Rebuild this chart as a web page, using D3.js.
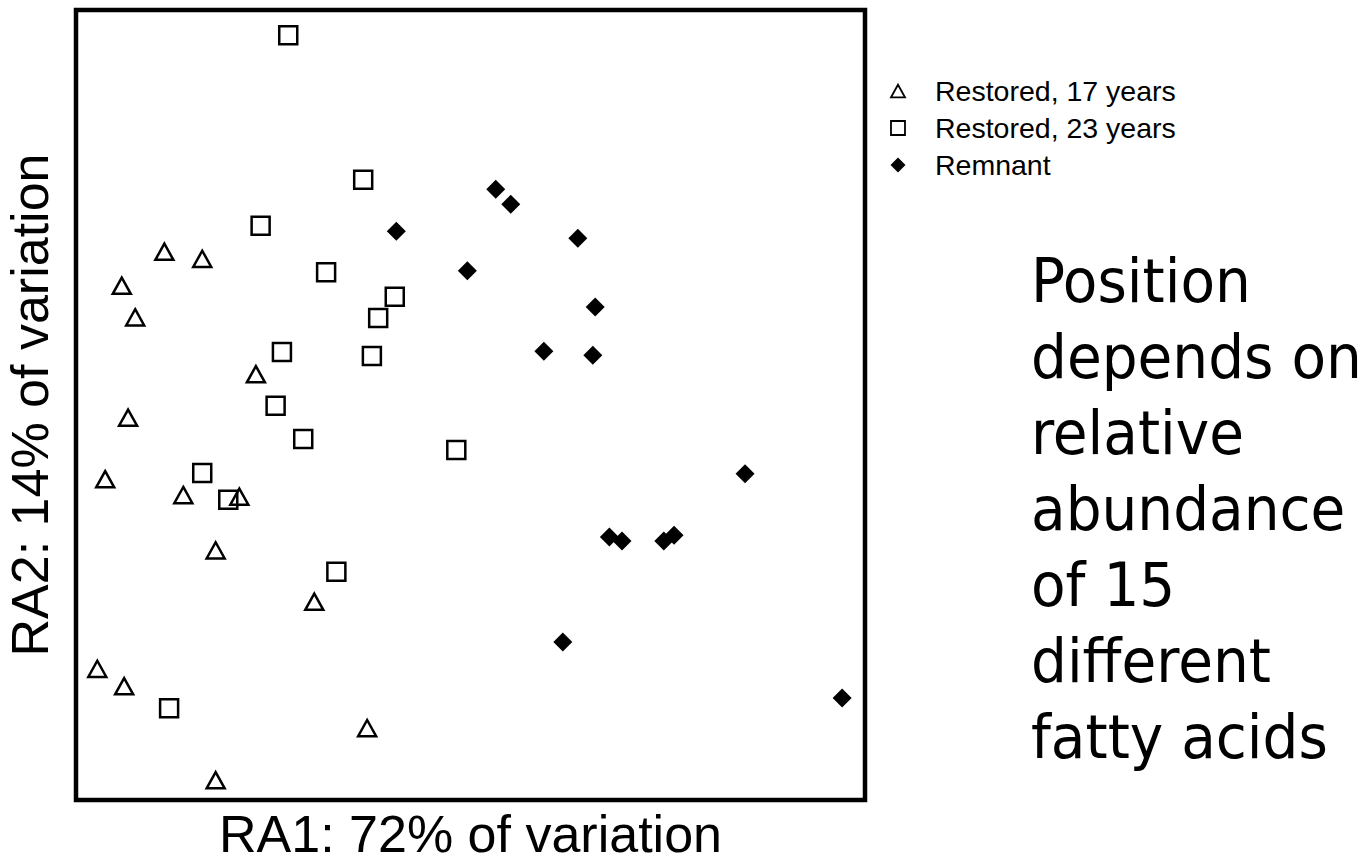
<!DOCTYPE html>
<html>
<head>
<meta charset="utf-8">
<script src="https://cdn.jsdelivr.net/npm/d3@7"></script>
<style>
  html, body { margin: 0; padding: 0; background: #fff; }
  svg { display: block; }
</style>
</head>
<body>
<svg id="chart" width="1369" height="865"></svg>
<script>
// Ordination scores (RA1, RA2), scaled 0–100 across the plotted range
const restored17 = [
  [11.2, 69.4], [16.0, 68.5], [5.8, 65.1], [7.5, 61.1], [22.8, 53.9],
  [6.6, 48.4], [3.7, 40.6], [13.6, 38.6], [20.7, 38.4], [17.7, 31.6],
  [30.2, 25.1], [2.7, 16.6], [6.1, 14.4], [36.9, 9.1], [17.7, 2.5]
];
const restored23 = [
  [26.9, 96.8], [36.4, 78.5], [23.4, 72.7], [31.7, 66.8], [40.4, 63.7],
  [38.3, 61.0], [26.1, 56.7], [37.5, 56.2], [25.3, 49.9], [28.8, 45.7],
  [48.2, 44.3], [16.0, 41.4], [19.3, 38.0], [33.0, 28.9], [11.8, 11.6]
];
const remnant = [
  [53.2, 77.3], [55.1, 75.4], [40.6, 72.0], [63.6, 71.1], [49.6, 67.0],
  [65.8, 62.4], [59.3, 56.8], [65.5, 56.3], [84.8, 41.3], [67.6, 33.3],
  [69.2, 32.8], [74.5, 32.8], [75.8, 33.5], [61.7, 20.0], [97.1, 12.9]
];

const seriesNames = ["Restored, 17 years", "Restored, 23 years", "Remnant"];
const axisTitles = { x: "RA1: 72% of variation", y: "RA2: 14% of variation" };
const noteLines = ["Position", "depends on", "relative", "abundance", "of 15", "different", "fatty acids"];

const svg = d3.select("#chart");

const plot = { left: 76, top: 10, right: 865, bottom: 800 };
const x = d3.scaleLinear().domain([0, 100]).range([plot.left, plot.right]);
const y = d3.scaleLinear().domain([0, 100]).range([plot.bottom, plot.top]);

// Marker shapes, centred on their bounding box
function trianglePath(s) {
  const w = s * 1.0, h = s * 0.9;
  return `M0,${-h / 2}L${w / 2},${h / 2}L${-w / 2},${h / 2}Z`;
}
function squarePath(s) {
  const h = s / 2;
  return `M${-h},${-h}H${h}V${h}H${-h}Z`;
}
function diamondPath(s) {
  const h = s / 2;
  return `M0,${-h}L${h},0L0,${h}L${-h},0Z`;
}

const series = [
  { name: seriesNames[0], data: restored17, path: trianglePath, size: 18, filled: false },
  { name: seriesNames[1], data: restored23, path: squarePath, size: 18, filled: false },
  { name: seriesNames[2], data: remnant, path: diamondPath, size: 19, filled: true }
];

// Plot frame
svg.append("rect")
  .attr("x", plot.left).attr("y", plot.top)
  .attr("width", plot.right - plot.left).attr("height", plot.bottom - plot.top)
  .attr("fill", "none").attr("stroke", "#000").attr("stroke-width", 4.5);

// Points
series.forEach(s => {
  svg.append("g").selectAll("path")
    .data(s.data)
    .join("path")
    .attr("transform", d => `translate(${x(d[0])},${y(d[1])})`)
    .attr("d", s.path(s.size))
    .attr("fill", s.filled ? "#000" : "none")
    .attr("stroke", s.filled ? "none" : "#000")
    .attr("stroke-width", 2.5)
    .attr("stroke-linejoin", "miter");
});

// Axis titles
svg.append("text")
  .attr("x", (plot.left + plot.right) / 2).attr("y", 852)
  .attr("text-anchor", "middle")
  .style("font-family", "'Liberation Sans', Arial, sans-serif")
  .style("font-size", "52px")
  .text(axisTitles.x);

svg.append("text")
  .attr("transform", `translate(48,${(plot.top + plot.bottom) / 2}) rotate(-90)`)
  .attr("text-anchor", "middle")
  .style("font-family", "'Liberation Sans', Arial, sans-serif")
  .style("font-size", "52px")
  .text(axisTitles.y);

// Legend
const legend = svg.append("g").attr("transform", "translate(898,91)");
series.forEach((s, i) => {
  const row = legend.append("g").attr("transform", `translate(0,${i * 37})`);
  row.append("path")
    .attr("d", s.path(i === 2 ? 15 : 14))
    .attr("fill", s.filled ? "#000" : "none")
    .attr("stroke", s.filled ? "none" : "#000")
    .attr("stroke-width", 1.8);
  row.append("text")
    .attr("x", 37).attr("y", 10)
    .style("font-family", "'Liberation Sans', Arial, sans-serif")
    .style("font-size", "28.5px")
    .text(s.name);
});

// Side note
const note = svg.append("text")
  .attr("transform", "translate(1031,0) scale(1.03,1)")
  .style("font-family", "'DejaVu Sans Condensed', 'DejaVu Sans', sans-serif")
  .style("font-stretch", "condensed")
  .style("font-size", "61px");
noteLines.forEach((line, i) => {
  note.append("tspan").attr("x", 0).attr("y", 302 + i * 76).text(line);
});
</script>
</body>
</html>
